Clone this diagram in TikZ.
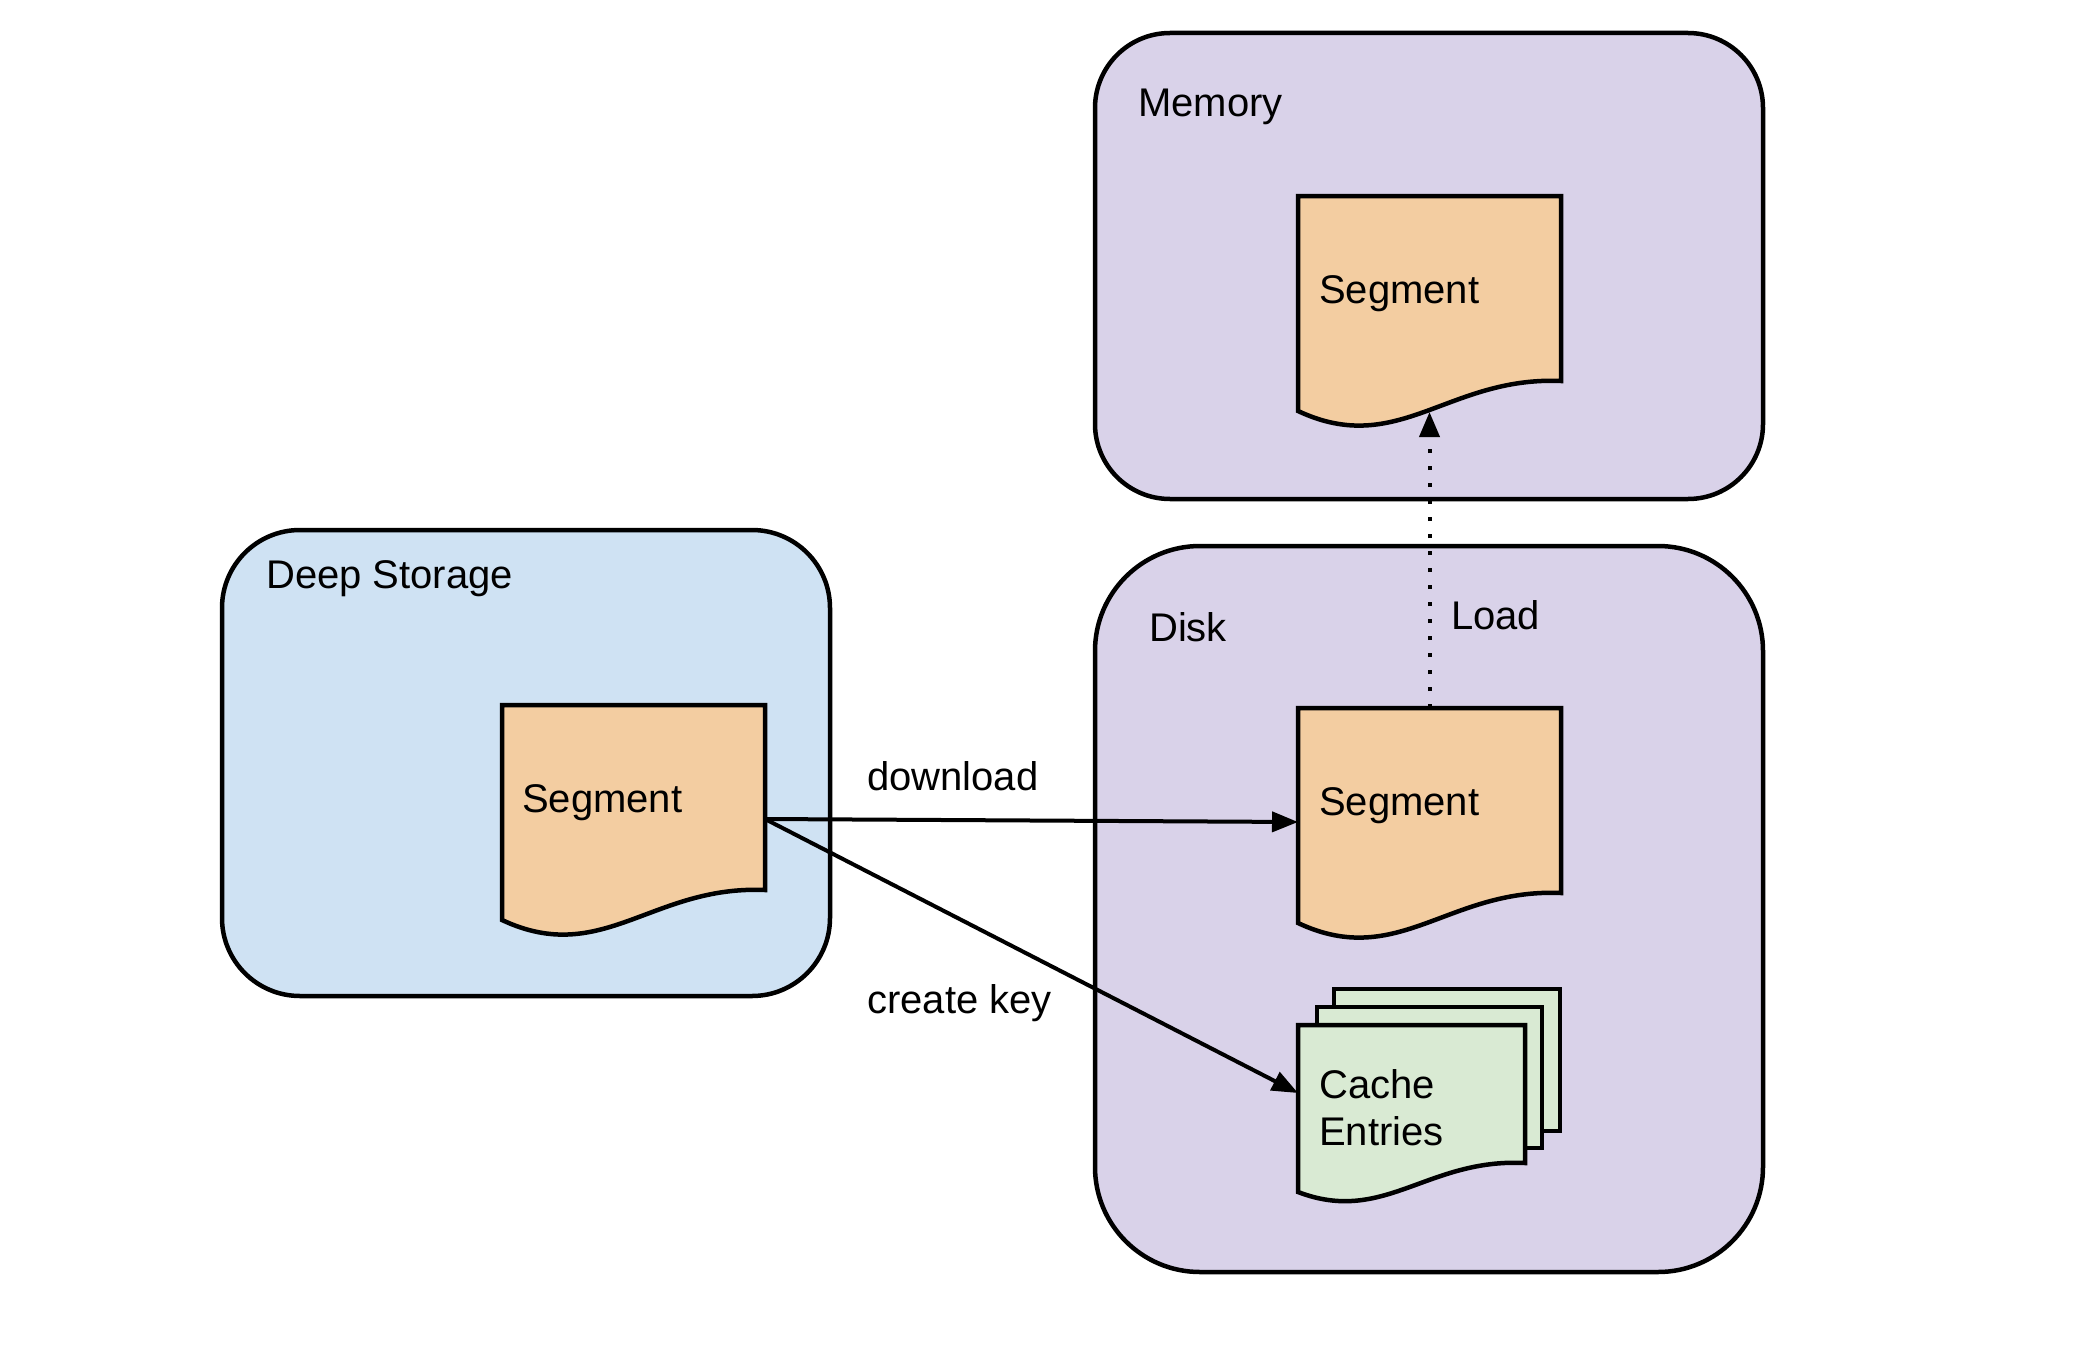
\documentclass[tikz,border=0pt]{standalone}
\usepackage{fontspec}
\setmainfont{Liberation Sans}
\usetikzlibrary{arrows.meta}

\definecolor{tierfill}{HTML}{D9D2E9}
\definecolor{deepfill}{HTML}{CFE2F3}
\definecolor{segfill}{HTML}{F3CDA1}
\definecolor{cachefill}{HTML}{D9EAD3}

\tikzset{
  tierbox/.style={draw=black, line width=4.5pt, rectangle, inner sep=0pt},
  docline/.style={draw=black, line width=4.5pt, line join=miter},
  area/.style={rectangle, inner sep=0pt, outer sep=0pt},
  lbl/.style={anchor=base west, inner sep=0pt, font=\fontsize{40}{47}\selectfont},
  flow/.style={line width=4pt, -{Triangle[length=26pt,width=20pt]}},
}

% segment document, top-left corner at (#1,#2)
\newcommand\segdoc[2]{%
  \filldraw[docline, fill=segfill] (#1,#2) -- ++(263,0) -- ++(0,185)
    .. controls +(-113,-5) and +(100,47) .. ++(-263,30) -- cycle;}

\begin{document}
\begin{tikzpicture}[x=1pt, y=-1pt]
\useasboundingbox (0,0) rectangle (2082,1370);

% storage tiers
\node[tierbox, fill=tierfill, minimum width=668pt, minimum height=466pt,
      rounded corners=75pt] (memory) at (1429,266) {};
\node[tierbox, fill=tierfill, minimum width=668pt, minimum height=726pt,
      rounded corners=105pt] (disk) at (1429,909) {};
\node[tierbox, fill=deepfill, minimum width=608pt, minimum height=466pt,
      rounded corners=78pt] (deep) at (526,763) {};

\node[lbl] (memlbl) at (1138,117) {Memory};
\node[lbl] (disklbl) at (1149,641) {Disk};
\node[lbl] (deeplbl) at (266,588) {Deep Storage};

% segments
\segdoc{1298}{196}
\segdoc{1298}{708}
\segdoc{502}{705}

\node[area, minimum width=263pt, minimum height=216pt] (memseg) at (1429.5,304) {};
\node[area, minimum width=263pt, minimum height=228pt] (diskseg) at (1429.5,822) {};
\node[area, minimum width=263pt, minimum height=228pt] (deepseg) at (633.5,819) {};

\node[lbl] (memsegtxt) at (1319,303) {Segment};
\node[lbl] (disksegtxt) at (1319,815) {Segment};
\node[lbl] (deepsegtxt) at (522,812) {Segment};

% cache entries: stacked pages
\filldraw[docline, fill=cachefill] (1334,989) rectangle (1560,1131);
\filldraw[docline, fill=cachefill] (1317,1007) rectangle (1542,1148);
\filldraw[docline, fill=cachefill] (1298,1025) -- ++(227,0) -- ++(0,138)
    .. controls +(-98,-5) and +(86,33) .. ++(-227,29) -- cycle;
\node[area, minimum width=227pt, minimum height=174pt] (cache) at (1411.5,1112) {};
\node[lbl] (cachetxt1) at (1319,1098) {Cache};
\node[lbl] (cachetxt2) at (1319,1145) {Entries};
\coordinate (cachein) at (1298,1093);

% flows
\draw[flow] (deepseg.east) -- (diskseg.west);
\draw[flow] (deepseg.east) -- (cachein);
\draw[line width=4pt, dash pattern=on 4pt off 13pt,
      -{Triangle[length=25pt,width=20pt]}] (diskseg.north) -- (memseg.south);

\node[lbl] (dltxt) at (867,790) {download};
\node[lbl] (cktxt) at (867,1013) {create key};
\node[lbl] (loadtxt) at (1451,629) {Load};
\end{tikzpicture}
\end{document}
